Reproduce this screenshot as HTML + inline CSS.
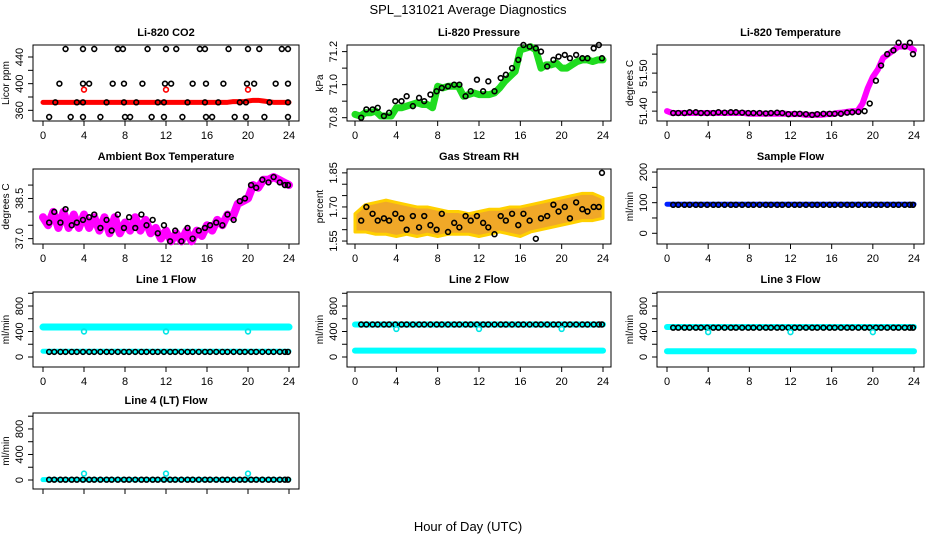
<!DOCTYPE html>
<html><head><meta charset="utf-8"><style>
body{margin:0;background:#fff;}
svg{display:block;font-family:"Liberation Sans",sans-serif;}
</style></head><body>
<svg id="chart" width="936" height="540" viewBox="0 0 936 540">
<text x="468" y="14" text-anchor="middle" font-size="13">SPL_131021  Average Diagnostics</text>
<text x="468" y="531" text-anchor="middle" font-size="13">Hour of Day (UTC)</text>
</svg>
<script>
// ---- data ----
const xTicks = [0,4,8,12,16,20,24];
const bandHours = [0,0.5,1,1.5,2,2.5,3,3.5,4,4.5,5,5.5,6,6.5,7,7.5,8,8.5,9,9.5,10,10.5,11,11.5,12,12.5,13,13.5,14,14.5,15,15.5,16,16.5,17,17.5,18,18.5,19,19.5,20,20.5,21,21.5,22,22.5,23,23.5,24];
const avgHours = [0.6,1.1,1.7,2.2,2.8,3.3,3.9,4.5,5.0,5.6,6.2,6.7,7.3,7.9,8.4,9.0,9.6,10.1,10.7,11.2,11.8,12.4,12.9,13.5,14.1,14.6,15.2,15.8,16.3,16.9,17.5,18.0,18.6,19.2,19.7,20.3,20.8,21.4,22.0,22.5,23.1,23.6,23.9];

const co2Red = [372,372,372,372,372,372,372,372,372,372,372,372,372,372,372,372,372,372,372,372,372,372,372,372,372,372,372,372,372,372,372,372,372,372,372,372,372,373,373,373,374,375,375,374,373,372,372,372,372];
const co2Hours = [2.2,3.9,5.0,7.3,7.8,10.2,12.0,13.0,15.3,15.8,18.1,20.0,21.1,23.3,23.9,1.6,3.9,4.5,6.8,7.9,9.7,11.9,12.5,14.6,15.9,17.6,19.9,20.6,22.7,23.9,1.2,3.3,3.9,6.2,7.9,9.1,11.2,11.8,14.1,15.8,17.1,19.2,19.8,22.1,23.9,0.6,2.7,3.9,5.6,8.0,8.5,10.6,11.8,13.6,15.9,16.5,18.7,19.8,21.6,23.9];
const co2Vals = [452,452,452,452,452,452,452,452,452,452,452,452,452,452,452,400,400,400,400,400,400,400,400,400,400,400,400,400,400,400,372,372,372,372,372,372,372,372,372,372,372,372,372,372,372,350,350,350,350,350,350,350,350,350,350,350,350,350,350,350];
const co2RedHours = [4,12,20];
const co2RedVals = [391,391,391];

const presBand = [70.82,70.81,70.83,70.83,70.84,70.81,70.81,70.81,70.86,70.86,70.87,70.88,70.89,70.88,70.88,70.86,70.99,70.98,70.99,70.99,70.99,70.93,70.94,70.95,70.94,70.94,70.94,70.95,70.98,71.02,71.05,71.08,71.21,71.22,71.23,71.21,71.10,71.12,71.12,71.13,71.10,71.10,71.12,71.14,71.15,71.15,71.14,71.15,71.15];
const presAvg = [70.80,70.85,70.85,70.86,70.81,70.83,70.90,70.90,70.93,70.87,70.92,70.90,70.94,70.96,70.98,70.99,71.00,71.00,70.93,70.96,71.03,70.96,71.02,70.96,71.04,71.06,71.10,71.15,71.24,71.23,71.22,71.20,71.11,71.15,71.17,71.18,71.16,71.18,71.16,71.16,71.22,71.24,71.16];

const tempBand = [51.40,51.395,51.395,51.395,51.395,51.395,51.395,51.395,51.395,51.395,51.395,51.395,51.395,51.395,51.395,51.395,51.393,51.393,51.393,51.393,51.393,51.393,51.393,51.393,51.392,51.392,51.392,51.39,51.39,51.39,51.39,51.392,51.392,51.395,51.396,51.398,51.40,51.40,51.42,51.46,51.49,51.51,51.54,51.55,51.56,51.57,51.57,51.57,51.56];
const tempAvg = [51.395,51.395,51.395,51.397,51.397,51.395,51.395,51.395,51.397,51.396,51.397,51.397,51.396,51.395,51.395,51.395,51.394,51.395,51.396,51.395,51.392,51.393,51.393,51.392,51.390,51.392,51.393,51.393,51.393,51.393,51.396,51.397,51.398,51.40,51.42,51.48,51.52,51.55,51.56,51.58,51.57,51.58,51.55];

const ambBand = [37.8,37.5,38.0,37.4,38.0,37.4,37.9,37.4,37.9,37.4,37.8,37.3,37.8,37.2,37.8,37.2,37.6,37.3,37.8,37.3,37.7,37.2,37.4,37.0,37.3,36.9,37.2,36.9,37.3,36.9,37.3,37.1,37.5,37.3,37.7,37.5,37.9,37.8,38.3,38.4,38.5,39.0,38.9,39.2,39.2,39.3,39.2,39.1,39.0];
const ambAvg = [37.6,38.0,37.6,38.1,37.5,37.6,37.7,37.8,37.9,37.4,37.7,37.3,37.9,37.4,37.8,37.4,37.9,37.5,37.7,37.2,37.5,36.9,37.3,36.9,37.4,37.0,37.3,37.4,37.5,37.6,37.5,37.9,37.7,38.4,38.5,39.0,38.9,39.2,39.1,39.3,39.1,39.0,39.0];

const rhHours = [0,1,2,3,4,5,6,7,8,9,10,11,12,13,14,15,16,17,18,19,20,21,22,23,24];
const rhLow = [1.59,1.59,1.58,1.58,1.57,1.58,1.57,1.58,1.57,1.58,1.58,1.58,1.57,1.58,1.59,1.58,1.57,1.59,1.60,1.61,1.62,1.63,1.64,1.64,1.65];
const rhHigh = [1.67,1.71,1.72,1.73,1.72,1.71,1.70,1.70,1.69,1.68,1.68,1.67,1.68,1.69,1.69,1.70,1.70,1.71,1.72,1.73,1.74,1.75,1.76,1.76,1.74];
const rhAvg = [1.64,1.70,1.67,1.64,1.65,1.64,1.67,1.65,1.60,1.66,1.61,1.66,1.62,1.60,1.67,1.59,1.63,1.61,1.66,1.64,1.66,1.63,1.61,1.58,1.66,1.64,1.67,1.62,1.67,1.64,1.56,1.65,1.66,1.71,1.68,1.70,1.65,1.72,1.69,1.68,1.70,1.70,1.85];

const sampleBlue = 95;
const sampleBlack = 93;
const flowAnomHours = [4,12,20];
const line1Cyan = [470,90];
const line1Black = 80;
const line1Anom = 400;
const line2Cyan = [510,100];
const line2Black = 510;
const line2Anom = 440;
const line3Cyan = [470,90];
const line3Black = 460;
const line3Anom = 390;
const line4Cyan = [5];
const line4Black = 5;
const line4Anom = 100;

// ---- layout ----
const NS = "http://www.w3.org/2000/svg";
const svg = document.getElementById('chart');
const cols = [{l:33,r:299,x0:43,x1:289},{l:347,r:611,x0:355,x1:603},{l:657,r:924,x0:667,x1:914}];
const rows = [{t:45,b:121},{t:169,b:244},{t:292,b:367},{t:413,b:489}];
function mk(tag, attrs, parent){const e=document.createElementNS(NS,tag);for(const k in attrs)e.setAttribute(k,attrs[k]);(parent||svg).appendChild(e);return e;}

function panel(name, title, ci, ri, ymin, ymax, ticks, labels, ylab){
  const c=cols[ci], r=rows[ri];
  const g=mk('g',{});
  
  
  const sx=h=>c.x0+(h/24)*(c.x1-c.x0);
  const sy=v=>r.b-(v-ymin)/(ymax-ymin)*(r.b-r.t);
  const box=mk('rect',{x:c.l,y:r.t,width:c.r-c.l,height:r.b-r.t,fill:'none',stroke:'#000','stroke-width':1},g);
  
  
  const tt=mk('text',{x:(c.l+c.r)/2,y:r.t-9,'text-anchor':'middle','font-size':11,'font-weight':'bold'},g);
  tt.textContent=title;
  
  
  const xa=mk('g',{},g);
  
  
  mk('line',{x1:sx(0),x2:sx(24),y1:r.b,y2:r.b,stroke:'#000'},xa);
  xTicks.forEach(t=>{
    mk('line',{x1:sx(t),x2:sx(t),y1:r.b,y2:r.b+5,stroke:'#000'},xa);
    if(ri<3){const tx=mk('text',{x:sx(t),y:r.b+18,'text-anchor':'middle','font-size':11},xa);tx.textContent=t;}
  });
  const ya=mk('g',{},g);
  
  
  ticks.forEach(t=>{
    mk('line',{x1:c.l-5,x2:c.l,y1:sy(t),y2:sy(t),stroke:'#000'},ya);
  });
  labels.forEach(t=>{
    const y=sy(t);const tx=mk('text',{x:c.l-10,y:y,'text-anchor':'middle','font-size':11,transform:`rotate(-90 ${c.l-10} ${y})`},ya);tx.textContent=t;
  });
  const yl=mk('text',{x:c.l-24,y:(r.t+r.b)/2,'text-anchor':'middle','font-size':10,transform:`rotate(-90 ${c.l-24} ${(r.t+r.b)/2})`},g);
  yl.textContent=ylab;
  
  
  const d=mk('g',{},g);
  
  
  return {sx,sy,g:d};
}
function band(p,hours,vals,color,w,name){
  const pl=mk('polyline',{points:hours.map((h,i)=>p.sx(h)+','+p.sy(vals[i])).join(' '),fill:'none',stroke:color,'stroke-width':w,'stroke-linejoin':'round','stroke-linecap':'round'},p.g);
  
  
}
function flat(p,v,color,w,name){
  const pl=mk('line',{x1:p.sx(0),x2:p.sx(24),y1:p.sy(v),y2:p.sy(v),stroke:color,'stroke-width':w,'stroke-linecap':'round'},p.g);
  
  
}
function pts(p,hours,vals,color,name){
  hours.forEach((h,i)=>{
    const v=Array.isArray(vals)?vals[i]:vals;
    const ci=mk('circle',{cx:p.sx(h),cy:p.sy(v),r:2.4,fill:'none',stroke:color,'stroke-width':1.6},p.g);
    
    
  });
}

let p;
p=panel('co2','Li-820 CO2',0,0,344,458,[360,380,400,420,440],[360,400,440],'Licor ppm');
band(p,bandHours,co2Red,'#f00',5,'co2-red-band');
pts(p,co2Hours,co2Vals,'#000','co2-average-point');
pts(p,co2RedHours,co2RedVals,'#f00','co2-red-point');

p=panel('pressure','Li-820 Pressure',1,0,70.78,71.24,[70.8,70.9,71.0,71.1,71.2],['70.8','71.0','71.2'],'kPa');
band(p,bandHours,presBand,'#1fdc1f',7,'pressure-green-band');
pts(p,avgHours,presAvg,'#000','pressure-average-point');

p=panel('li820-temp','Li-820 Temperature',2,0,51.374,51.574,[51.40,51.45,51.50,51.55],['51.40','51.50'],'degrees C');
band(p,bandHours,tempBand,'#f0f',6,'li820-temp-band');
pts(p,avgHours,tempAvg,'#000','li820-temp-average-point');

p=panel('ambient','Ambient Box Temperature',0,1,36.8,39.6,[37.0,37.5,38.0,38.5,39.0],['37.0','38.5'],'degrees C');
band(p,bandHours,ambBand,'#f0f',8,'ambient-band');
pts(p,avgHours,ambAvg,'#000','ambient-average-point');

p=panel('rh','Gas Stream RH',1,1,1.537,1.867,[1.55,1.60,1.65,1.70,1.75,1.80,1.85],['1.55','1.70','1.85'],'percent');
{
  const pg=mk('polygon',{points:rhHours.map((h,i)=>p.sx(h)+','+p.sy(rhHigh[i])).concat(rhHours.slice().reverse().map((h,j)=>p.sx(h)+','+p.sy(rhLow[rhHours.length-1-j]))).join(' '),fill:'#f0a828',stroke:'#ffd000','stroke-width':3,'stroke-linejoin':'round'},p.g);
  
  
}
pts(p,avgHours,rhAvg,'#000','rh-average-point');

p=panel('sample-flow','Sample Flow',2,1,-35,210,[0,50,100,150,200],[0,100,200],'ml/min');
flat(p,sampleBlue,'#0020ff',5,'sample-flow-blue-band');
pts(p,avgHours,sampleBlack,'#000','sample-flow-average-point');

const fT=[0,200,400,600,800,1000], fL=[0,400,800];
p=panel('line1','Line 1 Flow',0,2,-157,1020,fT,fL,'ml/min');
line1Cyan.forEach((v,i)=>flat(p,v,'#00ffff',i===0?7:5,'line1-cyan-band'));
pts(p,avgHours,line1Black,'#000','line1-average-point');
pts(p,flowAnomHours,line1Anom,'#00e5e5','line1-cyan-point');

p=panel('line2','Line 2 Flow',1,2,-157,1020,fT,fL,'ml/min');
line2Cyan.forEach((v,i)=>flat(p,v,'#00ffff',6,'line2-cyan-band'));
pts(p,avgHours,line2Black,'#000','line2-average-point');
pts(p,flowAnomHours,line2Anom,'#00e5e5','line2-cyan-point');

p=panel('line3','Line 3 Flow',2,2,-157,1020,fT,fL,'ml/min');
line3Cyan.forEach((v,i)=>flat(p,v,'#00ffff',6,'line3-cyan-band'));
pts(p,avgHours,line3Black,'#000','line3-average-point');
pts(p,flowAnomHours,line3Anom,'#00e5e5','line3-cyan-point');

p=panel('line4','Line 4 (LT) Flow',0,3,-141,1050,fT,fL,'ml/min');
line4Cyan.forEach(v=>flat(p,v,'#00ffff',5,'line4-cyan-band'));
pts(p,avgHours,line4Black,'#000','line4-average-point');
pts(p,flowAnomHours,line4Anom,'#00e5e5','line4-cyan-point');
</script>
</body></html>
